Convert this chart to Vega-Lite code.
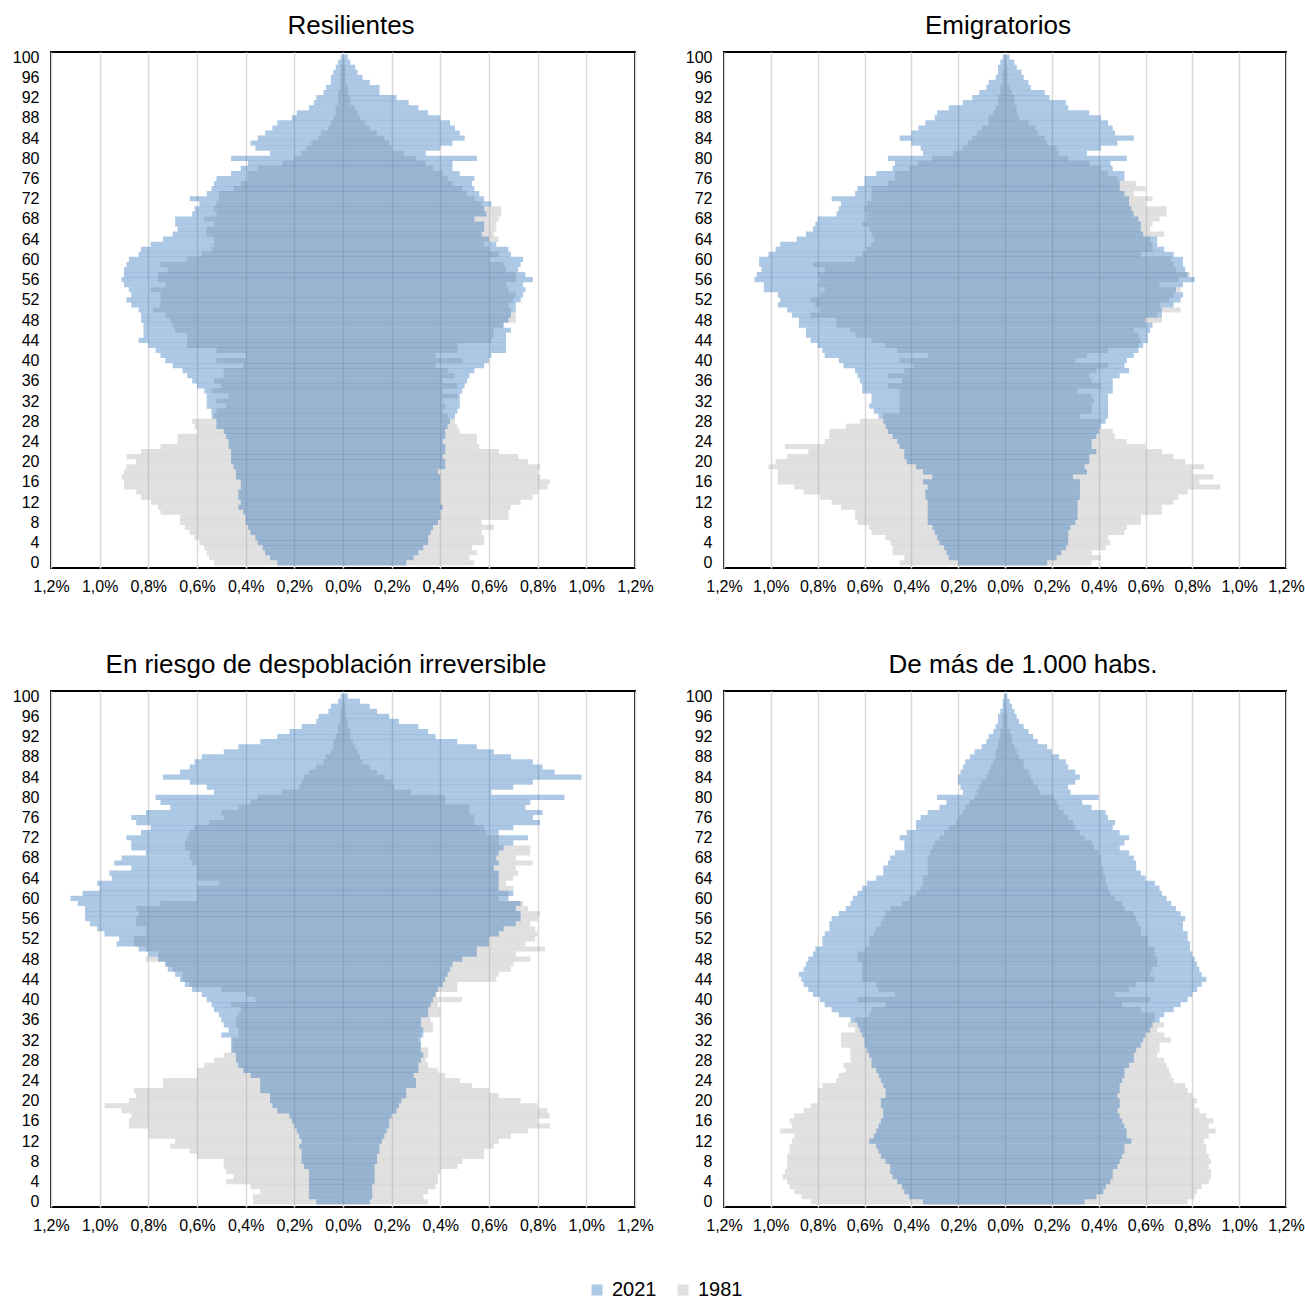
{
"$schema": "https://vega.github.io/schema/vega-lite/v6.json",
"padding": {"left": 11, "top": 12, "right": 2, "bottom": 2},
"background": "white",
"columns": 2,
"spacing": {"row": 123, "column": 89},
"bounds": "flush",
"align": "each",
"resolve": {"scale": {"color": "shared"}},
"datasets": {
"r21": [{"a":0,"v":-0.27},{"a":1,"v":-0.3},{"a":2,"v":-0.32},{"a":3,"v":-0.33},{"a":4,"v":-0.35},{"a":5,"v":-0.36},{"a":6,"v":-0.38},{"a":7,"v":-0.39},{"a":8,"v":-0.4},{"a":9,"v":-0.4},{"a":10,"v":-0.41},{"a":11,"v":-0.43},{"a":12,"v":-0.42},{"a":13,"v":-0.43},{"a":14,"v":-0.43},{"a":15,"v":-0.42},{"a":16,"v":-0.42},{"a":17,"v":-0.44},{"a":18,"v":-0.44},{"a":19,"v":-0.45},{"a":20,"v":-0.46},{"a":21,"v":-0.46},{"a":22,"v":-0.46},{"a":23,"v":-0.47},{"a":24,"v":-0.47},{"a":25,"v":-0.48},{"a":26,"v":-0.49},{"a":27,"v":-0.52},{"a":28,"v":-0.52},{"a":29,"v":-0.54},{"a":30,"v":-0.54},{"a":31,"v":-0.56},{"a":32,"v":-0.56},{"a":33,"v":-0.56},{"a":34,"v":-0.57},{"a":35,"v":-0.6},{"a":36,"v":-0.62},{"a":37,"v":-0.64},{"a":38,"v":-0.66},{"a":39,"v":-0.7},{"a":40,"v":-0.73},{"a":41,"v":-0.75},{"a":42,"v":-0.77},{"a":43,"v":-0.8},{"a":44,"v":-0.84},{"a":45,"v":-0.82},{"a":46,"v":-0.82},{"a":47,"v":-0.82},{"a":48,"v":-0.83},{"a":49,"v":-0.83},{"a":50,"v":-0.84},{"a":51,"v":-0.87},{"a":52,"v":-0.89},{"a":53,"v":-0.87},{"a":54,"v":-0.88},{"a":55,"v":-0.9},{"a":56,"v":-0.91},{"a":57,"v":-0.9},{"a":58,"v":-0.9},{"a":59,"v":-0.89},{"a":60,"v":-0.88},{"a":61,"v":-0.84},{"a":62,"v":-0.83},{"a":63,"v":-0.79},{"a":64,"v":-0.74},{"a":65,"v":-0.7},{"a":66,"v":-0.68},{"a":67,"v":-0.69},{"a":68,"v":-0.69},{"a":69,"v":-0.62},{"a":70,"v":-0.61},{"a":71,"v":-0.59},{"a":72,"v":-0.63},{"a":73,"v":-0.56},{"a":74,"v":-0.54},{"a":75,"v":-0.53},{"a":76,"v":-0.52},{"a":77,"v":-0.46},{"a":78,"v":-0.42},{"a":79,"v":-0.39},{"a":80,"v":-0.46},{"a":81,"v":-0.3},{"a":82,"v":-0.36},{"a":83,"v":-0.38},{"a":84,"v":-0.35},{"a":85,"v":-0.32},{"a":86,"v":-0.29},{"a":87,"v":-0.27},{"a":88,"v":-0.21},{"a":89,"v":-0.19},{"a":90,"v":-0.14},{"a":91,"v":-0.12},{"a":92,"v":-0.11},{"a":93,"v":-0.08},{"a":94,"v":-0.07},{"a":95,"v":-0.05},{"a":96,"v":-0.05},{"a":97,"v":-0.04},{"a":98,"v":-0.03},{"a":99,"v":-0.02},{"a":100,"v":-0.01},
{"a":0,"v":0.26},{"a":1,"v":0.29},{"a":2,"v":0.31},{"a":3,"v":0.33},{"a":4,"v":0.35},{"a":5,"v":0.35},{"a":6,"v":0.36},{"a":7,"v":0.37},{"a":8,"v":0.39},{"a":9,"v":0.4},{"a":10,"v":0.4},{"a":11,"v":0.41},{"a":12,"v":0.4},{"a":13,"v":0.4},{"a":14,"v":0.4},{"a":15,"v":0.4},{"a":16,"v":0.4},{"a":17,"v":0.4},{"a":18,"v":0.39},{"a":19,"v":0.42},{"a":20,"v":0.42},{"a":21,"v":0.41},{"a":22,"v":0.42},{"a":23,"v":0.42},{"a":24,"v":0.41},{"a":25,"v":0.42},{"a":26,"v":0.42},{"a":27,"v":0.43},{"a":28,"v":0.44},{"a":29,"v":0.46},{"a":30,"v":0.47},{"a":31,"v":0.48},{"a":32,"v":0.48},{"a":33,"v":0.48},{"a":34,"v":0.49},{"a":35,"v":0.5},{"a":36,"v":0.51},{"a":37,"v":0.52},{"a":38,"v":0.54},{"a":39,"v":0.58},{"a":40,"v":0.6},{"a":41,"v":0.61},{"a":42,"v":0.67},{"a":43,"v":0.67},{"a":44,"v":0.67},{"a":45,"v":0.67},{"a":46,"v":0.69},{"a":47,"v":0.66},{"a":48,"v":0.68},{"a":49,"v":0.69},{"a":50,"v":0.71},{"a":51,"v":0.71},{"a":52,"v":0.73},{"a":53,"v":0.74},{"a":54,"v":0.75},{"a":55,"v":0.74},{"a":56,"v":0.78},{"a":57,"v":0.75},{"a":58,"v":0.72},{"a":59,"v":0.73},{"a":60,"v":0.74},{"a":61,"v":0.69},{"a":62,"v":0.68},{"a":63,"v":0.63},{"a":64,"v":0.6},{"a":65,"v":0.57},{"a":66,"v":0.58},{"a":67,"v":0.58},{"a":68,"v":0.54},{"a":69,"v":0.59},{"a":70,"v":0.58},{"a":71,"v":0.61},{"a":72,"v":0.58},{"a":73,"v":0.56},{"a":74,"v":0.54},{"a":75,"v":0.53},{"a":76,"v":0.54},{"a":77,"v":0.48},{"a":78,"v":0.45},{"a":79,"v":0.45},{"a":80,"v":0.55},{"a":81,"v":0.34},{"a":82,"v":0.4},{"a":83,"v":0.45},{"a":84,"v":0.5},{"a":85,"v":0.48},{"a":86,"v":0.46},{"a":87,"v":0.44},{"a":88,"v":0.4},{"a":89,"v":0.35},{"a":90,"v":0.31},{"a":91,"v":0.27},{"a":92,"v":0.22},{"a":93,"v":0.15},{"a":94,"v":0.15},{"a":95,"v":0.11},{"a":96,"v":0.08},{"a":97,"v":0.06},{"a":98,"v":0.05},{"a":99,"v":0.03},{"a":100,"v":0.02}],
"r81": [{"a":0,"v":-0.53},{"a":1,"v":-0.55},{"a":2,"v":-0.56},{"a":3,"v":-0.57},{"a":4,"v":-0.59},{"a":5,"v":-0.61},{"a":6,"v":-0.63},{"a":7,"v":-0.65},{"a":8,"v":-0.67},{"a":9,"v":-0.67},{"a":10,"v":-0.75},{"a":11,"v":-0.76},{"a":12,"v":-0.79},{"a":13,"v":-0.83},{"a":14,"v":-0.85},{"a":15,"v":-0.9},{"a":16,"v":-0.9},{"a":17,"v":-0.91},{"a":18,"v":-0.9},{"a":19,"v":-0.89},{"a":20,"v":-0.85},{"a":21,"v":-0.89},{"a":22,"v":-0.83},{"a":23,"v":-0.75},{"a":24,"v":-0.68},{"a":25,"v":-0.68},{"a":26,"v":-0.6},{"a":27,"v":-0.61},{"a":28,"v":-0.62},{"a":29,"v":-0.53},{"a":30,"v":-0.52},{"a":31,"v":-0.48},{"a":32,"v":-0.52},{"a":33,"v":-0.47},{"a":34,"v":-0.54},{"a":35,"v":-0.5},{"a":36,"v":-0.53},{"a":37,"v":-0.49},{"a":38,"v":-0.49},{"a":39,"v":-0.41},{"a":40,"v":-0.52},{"a":41,"v":-0.4},{"a":42,"v":-0.52},{"a":43,"v":-0.64},{"a":44,"v":-0.64},{"a":45,"v":-0.64},{"a":46,"v":-0.69},{"a":47,"v":-0.7},{"a":48,"v":-0.71},{"a":49,"v":-0.73},{"a":50,"v":-0.78},{"a":51,"v":-0.75},{"a":52,"v":-0.75},{"a":53,"v":-0.75},{"a":54,"v":-0.79},{"a":55,"v":-0.73},{"a":56,"v":-0.76},{"a":57,"v":-0.76},{"a":58,"v":-0.72},{"a":59,"v":-0.75},{"a":60,"v":-0.64},{"a":61,"v":-0.58},{"a":62,"v":-0.54},{"a":63,"v":-0.53},{"a":64,"v":-0.53},{"a":65,"v":-0.56},{"a":66,"v":-0.56},{"a":67,"v":-0.53},{"a":68,"v":-0.57},{"a":69,"v":-0.52},{"a":70,"v":-0.53},{"a":71,"v":-0.52},{"a":72,"v":-0.51},{"a":73,"v":-0.51},{"a":74,"v":-0.45},{"a":75,"v":-0.42},{"a":76,"v":-0.39},{"a":77,"v":-0.39},{"a":78,"v":-0.35},{"a":79,"v":-0.25},{"a":80,"v":-0.2},{"a":81,"v":-0.17},{"a":82,"v":-0.15},{"a":83,"v":-0.13},{"a":84,"v":-0.1},{"a":85,"v":-0.09},{"a":86,"v":-0.06},{"a":87,"v":-0.05},{"a":88,"v":-0.04},{"a":89,"v":-0.03},{"a":90,"v":-0.03},{"a":91,"v":-0.02},{"a":92,"v":-0.02},{"a":93,"v":-0.02},{"a":94,"v":-0.01},{"a":95,"v":-0.01},{"a":96,"v":-0.01},{"a":97,"v":-0.01},{"a":98,"v":-0.01},{"a":99,"v":-0.005},{"a":100,"v":0},
{"a":0,"v":0.54},{"a":1,"v":0.52},{"a":2,"v":0.55},{"a":3,"v":0.53},{"a":4,"v":0.58},{"a":5,"v":0.58},{"a":6,"v":0.57},{"a":7,"v":0.62},{"a":8,"v":0.57},{"a":9,"v":0.68},{"a":10,"v":0.68},{"a":11,"v":0.69},{"a":12,"v":0.73},{"a":13,"v":0.78},{"a":14,"v":0.8},{"a":15,"v":0.84},{"a":16,"v":0.85},{"a":17,"v":0.81},{"a":18,"v":0.8},{"a":19,"v":0.81},{"a":20,"v":0.76},{"a":21,"v":0.72},{"a":22,"v":0.64},{"a":23,"v":0.56},{"a":24,"v":0.55},{"a":25,"v":0.55},{"a":26,"v":0.48},{"a":27,"v":0.47},{"a":28,"v":0.46},{"a":29,"v":0.43},{"a":30,"v":0.41},{"a":31,"v":0.42},{"a":32,"v":0.41},{"a":33,"v":0.47},{"a":34,"v":0.41},{"a":35,"v":0.47},{"a":36,"v":0.41},{"a":37,"v":0.46},{"a":38,"v":0.43},{"a":39,"v":0.38},{"a":40,"v":0.49},{"a":41,"v":0.38},{"a":42,"v":0.47},{"a":43,"v":0.47},{"a":44,"v":0.61},{"a":45,"v":0.62},{"a":46,"v":0.62},{"a":47,"v":0.66},{"a":48,"v":0.71},{"a":49,"v":0.71},{"a":50,"v":0.69},{"a":51,"v":0.68},{"a":52,"v":0.7},{"a":53,"v":0.71},{"a":54,"v":0.68},{"a":55,"v":0.67},{"a":56,"v":0.71},{"a":57,"v":0.71},{"a":58,"v":0.67},{"a":59,"v":0.66},{"a":60,"v":0.6},{"a":61,"v":0.64},{"a":62,"v":0.6},{"a":63,"v":0.58},{"a":64,"v":0.64},{"a":65,"v":0.62},{"a":66,"v":0.63},{"a":67,"v":0.63},{"a":68,"v":0.64},{"a":69,"v":0.65},{"a":70,"v":0.65},{"a":71,"v":0.57},{"a":72,"v":0.54},{"a":73,"v":0.51},{"a":74,"v":0.49},{"a":75,"v":0.45},{"a":76,"v":0.43},{"a":77,"v":0.41},{"a":78,"v":0.37},{"a":79,"v":0.34},{"a":80,"v":0.3},{"a":81,"v":0.25},{"a":82,"v":0.2},{"a":83,"v":0.19},{"a":84,"v":0.17},{"a":85,"v":0.14},{"a":86,"v":0.11},{"a":87,"v":0.09},{"a":88,"v":0.07},{"a":89,"v":0.06},{"a":90,"v":0.05},{"a":91,"v":0.03},{"a":92,"v":0.03},{"a":93,"v":0.02},{"a":94,"v":0.02},{"a":95,"v":0.01},{"a":96,"v":0.01},{"a":97,"v":0.01},{"a":98,"v":0.01},{"a":99,"v":0.005},{"a":100,"v":0.003}],
"e21": [{"a":0,"v":-0.2},{"a":1,"v":-0.24},{"a":2,"v":-0.25},{"a":3,"v":-0.26},{"a":4,"v":-0.28},{"a":5,"v":-0.29},{"a":6,"v":-0.3},{"a":7,"v":-0.31},{"a":8,"v":-0.33},{"a":9,"v":-0.33},{"a":10,"v":-0.33},{"a":11,"v":-0.33},{"a":12,"v":-0.33},{"a":13,"v":-0.34},{"a":14,"v":-0.34},{"a":15,"v":-0.33},{"a":16,"v":-0.35},{"a":17,"v":-0.31},{"a":18,"v":-0.35},{"a":19,"v":-0.38},{"a":20,"v":-0.42},{"a":21,"v":-0.43},{"a":22,"v":-0.43},{"a":23,"v":-0.45},{"a":24,"v":-0.46},{"a":25,"v":-0.48},{"a":26,"v":-0.5},{"a":27,"v":-0.51},{"a":28,"v":-0.52},{"a":29,"v":-0.54},{"a":30,"v":-0.56},{"a":31,"v":-0.58},{"a":32,"v":-0.57},{"a":33,"v":-0.57},{"a":34,"v":-0.61},{"a":35,"v":-0.61},{"a":36,"v":-0.62},{"a":37,"v":-0.63},{"a":38,"v":-0.64},{"a":39,"v":-0.69},{"a":40,"v":-0.71},{"a":41,"v":-0.77},{"a":42,"v":-0.78},{"a":43,"v":-0.8},{"a":44,"v":-0.83},{"a":45,"v":-0.85},{"a":46,"v":-0.85},{"a":47,"v":-0.88},{"a":48,"v":-0.88},{"a":49,"v":-0.91},{"a":50,"v":-0.93},{"a":51,"v":-0.97},{"a":52,"v":-0.96},{"a":53,"v":-0.97},{"a":54,"v":-1.03},{"a":55,"v":-1.03},{"a":56,"v":-1.07},{"a":57,"v":-1.06},{"a":58,"v":-1.04},{"a":59,"v":-1.05},{"a":60,"v":-1.05},{"a":61,"v":-1.01},{"a":62,"v":-0.98},{"a":63,"v":-0.96},{"a":64,"v":-0.89},{"a":65,"v":-0.85},{"a":66,"v":-0.82},{"a":67,"v":-0.81},{"a":68,"v":-0.8},{"a":69,"v":-0.72},{"a":70,"v":-0.71},{"a":71,"v":-0.7},{"a":72,"v":-0.74},{"a":73,"v":-0.64},{"a":74,"v":-0.63},{"a":75,"v":-0.6},{"a":76,"v":-0.6},{"a":77,"v":-0.55},{"a":78,"v":-0.48},{"a":79,"v":-0.47},{"a":80,"v":-0.5},{"a":81,"v":-0.35},{"a":82,"v":-0.36},{"a":83,"v":-0.4},{"a":84,"v":-0.45},{"a":85,"v":-0.4},{"a":86,"v":-0.37},{"a":87,"v":-0.34},{"a":88,"v":-0.3},{"a":89,"v":-0.29},{"a":90,"v":-0.24},{"a":91,"v":-0.18},{"a":92,"v":-0.14},{"a":93,"v":-0.11},{"a":94,"v":-0.08},{"a":95,"v":-0.07},{"a":96,"v":-0.04},{"a":97,"v":-0.03},{"a":98,"v":-0.03},{"a":99,"v":-0.02},{"a":100,"v":-0.01},
{"a":0,"v":0.18},{"a":1,"v":0.22},{"a":2,"v":0.24},{"a":3,"v":0.26},{"a":4,"v":0.27},{"a":5,"v":0.27},{"a":6,"v":0.27},{"a":7,"v":0.28},{"a":8,"v":0.3},{"a":9,"v":0.31},{"a":10,"v":0.31},{"a":11,"v":0.31},{"a":12,"v":0.31},{"a":13,"v":0.32},{"a":14,"v":0.32},{"a":15,"v":0.32},{"a":16,"v":0.32},{"a":17,"v":0.29},{"a":18,"v":0.35},{"a":19,"v":0.34},{"a":20,"v":0.36},{"a":21,"v":0.36},{"a":22,"v":0.39},{"a":23,"v":0.37},{"a":24,"v":0.37},{"a":25,"v":0.39},{"a":26,"v":0.4},{"a":27,"v":0.41},{"a":28,"v":0.43},{"a":29,"v":0.44},{"a":30,"v":0.44},{"a":31,"v":0.44},{"a":32,"v":0.44},{"a":33,"v":0.44},{"a":34,"v":0.46},{"a":35,"v":0.46},{"a":36,"v":0.46},{"a":37,"v":0.49},{"a":38,"v":0.53},{"a":39,"v":0.51},{"a":40,"v":0.52},{"a":41,"v":0.55},{"a":42,"v":0.57},{"a":43,"v":0.59},{"a":44,"v":0.61},{"a":45,"v":0.61},{"a":46,"v":0.62},{"a":47,"v":0.63},{"a":48,"v":0.6},{"a":49,"v":0.67},{"a":50,"v":0.67},{"a":51,"v":0.72},{"a":52,"v":0.75},{"a":53,"v":0.76},{"a":54,"v":0.73},{"a":55,"v":0.76},{"a":56,"v":0.81},{"a":57,"v":0.78},{"a":58,"v":0.77},{"a":59,"v":0.76},{"a":60,"v":0.76},{"a":61,"v":0.72},{"a":62,"v":0.68},{"a":63,"v":0.65},{"a":64,"v":0.65},{"a":65,"v":0.59},{"a":66,"v":0.58},{"a":67,"v":0.58},{"a":68,"v":0.57},{"a":69,"v":0.55},{"a":70,"v":0.54},{"a":71,"v":0.53},{"a":72,"v":0.53},{"a":73,"v":0.51},{"a":74,"v":0.49},{"a":75,"v":0.49},{"a":76,"v":0.51},{"a":77,"v":0.51},{"a":78,"v":0.46},{"a":79,"v":0.45},{"a":80,"v":0.52},{"a":81,"v":0.35},{"a":82,"v":0.41},{"a":83,"v":0.48},{"a":84,"v":0.55},{"a":85,"v":0.47},{"a":86,"v":0.46},{"a":87,"v":0.44},{"a":88,"v":0.41},{"a":89,"v":0.36},{"a":90,"v":0.27},{"a":91,"v":0.26},{"a":92,"v":0.19},{"a":93,"v":0.17},{"a":94,"v":0.11},{"a":95,"v":0.1},{"a":96,"v":0.08},{"a":97,"v":0.07},{"a":98,"v":0.05},{"a":99,"v":0.04},{"a":100,"v":0.02}],
"e81": [{"a":0,"v":-0.45},{"a":1,"v":-0.43},{"a":2,"v":-0.48},{"a":3,"v":-0.48},{"a":4,"v":-0.49},{"a":5,"v":-0.51},{"a":6,"v":-0.57},{"a":7,"v":-0.58},{"a":8,"v":-0.63},{"a":9,"v":-0.64},{"a":10,"v":-0.64},{"a":11,"v":-0.7},{"a":12,"v":-0.74},{"a":13,"v":-0.79},{"a":14,"v":-0.86},{"a":15,"v":-0.9},{"a":16,"v":-0.97},{"a":17,"v":-0.97},{"a":18,"v":-0.97},{"a":19,"v":-1.01},{"a":20,"v":-0.98},{"a":21,"v":-0.93},{"a":22,"v":-0.84},{"a":23,"v":-0.94},{"a":24,"v":-0.77},{"a":25,"v":-0.75},{"a":26,"v":-0.75},{"a":27,"v":-0.68},{"a":28,"v":-0.62},{"a":29,"v":-0.52},{"a":30,"v":-0.45},{"a":31,"v":-0.45},{"a":32,"v":-0.45},{"a":33,"v":-0.45},{"a":34,"v":-0.45},{"a":35,"v":-0.5},{"a":36,"v":-0.44},{"a":37,"v":-0.5},{"a":38,"v":-0.43},{"a":39,"v":-0.39},{"a":40,"v":-0.45},{"a":41,"v":-0.33},{"a":42,"v":-0.46},{"a":43,"v":-0.51},{"a":44,"v":-0.57},{"a":45,"v":-0.64},{"a":46,"v":-0.66},{"a":47,"v":-0.72},{"a":48,"v":-0.72},{"a":49,"v":-0.83},{"a":50,"v":-0.79},{"a":51,"v":-0.81},{"a":52,"v":-0.83},{"a":53,"v":-0.79},{"a":54,"v":-0.77},{"a":55,"v":-0.8},{"a":56,"v":-0.79},{"a":57,"v":-0.8},{"a":58,"v":-0.77},{"a":59,"v":-0.82},{"a":60,"v":-0.64},{"a":61,"v":-0.61},{"a":62,"v":-0.59},{"a":63,"v":-0.57},{"a":64,"v":-0.56},{"a":65,"v":-0.57},{"a":66,"v":-0.58},{"a":67,"v":-0.61},{"a":68,"v":-0.59},{"a":69,"v":-0.59},{"a":70,"v":-0.6},{"a":71,"v":-0.59},{"a":72,"v":-0.57},{"a":73,"v":-0.57},{"a":74,"v":-0.57},{"a":75,"v":-0.5},{"a":76,"v":-0.47},{"a":77,"v":-0.47},{"a":78,"v":-0.41},{"a":79,"v":-0.37},{"a":80,"v":-0.31},{"a":81,"v":-0.22},{"a":82,"v":-0.18},{"a":83,"v":-0.16},{"a":84,"v":-0.14},{"a":85,"v":-0.12},{"a":86,"v":-0.1},{"a":87,"v":-0.07},{"a":88,"v":-0.07},{"a":89,"v":-0.05},{"a":90,"v":-0.04},{"a":91,"v":-0.03},{"a":92,"v":-0.03},{"a":93,"v":-0.02},{"a":94,"v":-0.02},{"a":95,"v":-0.01},{"a":96,"v":-0.01},{"a":97,"v":-0.01},{"a":98,"v":-0.005},{"a":99,"v":-0.005},{"a":100,"v":-0.003},
{"a":0,"v":0.37},{"a":1,"v":0.41},{"a":2,"v":0.37},{"a":3,"v":0.43},{"a":4,"v":0.45},{"a":5,"v":0.44},{"a":6,"v":0.51},{"a":7,"v":0.52},{"a":8,"v":0.58},{"a":9,"v":0.58},{"a":10,"v":0.67},{"a":11,"v":0.67},{"a":12,"v":0.72},{"a":13,"v":0.74},{"a":14,"v":0.78},{"a":15,"v":0.92},{"a":16,"v":0.83},{"a":17,"v":0.89},{"a":18,"v":0.8},{"a":19,"v":0.85},{"a":20,"v":0.77},{"a":21,"v":0.72},{"a":22,"v":0.67},{"a":23,"v":0.6},{"a":24,"v":0.52},{"a":25,"v":0.47},{"a":26,"v":0.46},{"a":27,"v":0.4},{"a":28,"v":0.41},{"a":29,"v":0.32},{"a":30,"v":0.37},{"a":31,"v":0.37},{"a":32,"v":0.38},{"a":33,"v":0.37},{"a":34,"v":0.31},{"a":35,"v":0.41},{"a":36,"v":0.37},{"a":37,"v":0.36},{"a":38,"v":0.39},{"a":39,"v":0.44},{"a":40,"v":0.3},{"a":41,"v":0.35},{"a":42,"v":0.44},{"a":43,"v":0.57},{"a":44,"v":0.58},{"a":45,"v":0.57},{"a":46,"v":0.55},{"a":47,"v":0.6},{"a":48,"v":0.67},{"a":49,"v":0.65},{"a":50,"v":0.75},{"a":51,"v":0.66},{"a":52,"v":0.7},{"a":53,"v":0.72},{"a":54,"v":0.75},{"a":55,"v":0.66},{"a":56,"v":0.74},{"a":57,"v":0.79},{"a":58,"v":0.73},{"a":59,"v":0.72},{"a":60,"v":0.71},{"a":61,"v":0.58},{"a":62,"v":0.63},{"a":63,"v":0.63},{"a":64,"v":0.62},{"a":65,"v":0.68},{"a":66,"v":0.62},{"a":67,"v":0.63},{"a":68,"v":0.66},{"a":69,"v":0.69},{"a":70,"v":0.69},{"a":71,"v":0.6},{"a":72,"v":0.63},{"a":73,"v":0.55},{"a":74,"v":0.6},{"a":75,"v":0.56},{"a":76,"v":0.48},{"a":77,"v":0.44},{"a":78,"v":0.41},{"a":79,"v":0.36},{"a":80,"v":0.27},{"a":81,"v":0.23},{"a":82,"v":0.22},{"a":83,"v":0.18},{"a":84,"v":0.17},{"a":85,"v":0.14},{"a":86,"v":0.13},{"a":87,"v":0.1},{"a":88,"v":0.06},{"a":89,"v":0.05},{"a":90,"v":0.05},{"a":91,"v":0.04},{"a":92,"v":0.04},{"a":93,"v":0.03},{"a":94,"v":0.02},{"a":95,"v":0.01},{"a":96,"v":0.01},{"a":97,"v":0.01},{"a":98,"v":0.01},{"a":99,"v":0.005},{"a":100,"v":0.005}],
"d21": [{"a":0,"v":-0.11},{"a":1,"v":-0.14},{"a":2,"v":-0.14},{"a":3,"v":-0.14},{"a":4,"v":-0.14},{"a":5,"v":-0.14},{"a":6,"v":-0.14},{"a":7,"v":-0.16},{"a":8,"v":-0.17},{"a":9,"v":-0.17},{"a":10,"v":-0.17},{"a":11,"v":-0.18},{"a":12,"v":-0.17},{"a":13,"v":-0.18},{"a":14,"v":-0.19},{"a":15,"v":-0.2},{"a":16,"v":-0.21},{"a":17,"v":-0.22},{"a":18,"v":-0.27},{"a":19,"v":-0.29},{"a":20,"v":-0.3},{"a":21,"v":-0.3},{"a":22,"v":-0.34},{"a":23,"v":-0.34},{"a":24,"v":-0.34},{"a":25,"v":-0.38},{"a":26,"v":-0.41},{"a":27,"v":-0.43},{"a":28,"v":-0.44},{"a":29,"v":-0.44},{"a":30,"v":-0.46},{"a":31,"v":-0.46},{"a":32,"v":-0.46},{"a":33,"v":-0.5},{"a":34,"v":-0.47},{"a":35,"v":-0.49},{"a":36,"v":-0.5},{"a":37,"v":-0.51},{"a":38,"v":-0.53},{"a":39,"v":-0.54},{"a":40,"v":-0.56},{"a":41,"v":-0.58},{"a":42,"v":-0.62},{"a":43,"v":-0.65},{"a":44,"v":-0.67},{"a":45,"v":-0.69},{"a":46,"v":-0.72},{"a":47,"v":-0.73},{"a":48,"v":-0.76},{"a":49,"v":-0.8},{"a":50,"v":-0.84},{"a":51,"v":-0.93},{"a":52,"v":-0.92},{"a":53,"v":-0.98},{"a":54,"v":-1.01},{"a":55,"v":-1.04},{"a":56,"v":-1.06},{"a":57,"v":-1.06},{"a":58,"v":-1.06},{"a":59,"v":-1.09},{"a":60,"v":-1.12},{"a":61,"v":-1.07},{"a":62,"v":-1.0},{"a":63,"v":-1.01},{"a":64,"v":-0.95},{"a":65,"v":-0.96},{"a":66,"v":-0.87},{"a":67,"v":-0.94},{"a":68,"v":-0.91},{"a":69,"v":-0.81},{"a":70,"v":-0.87},{"a":71,"v":-0.87},{"a":72,"v":-0.89},{"a":73,"v":-0.83},{"a":74,"v":-0.79},{"a":75,"v":-0.85},{"a":76,"v":-0.87},{"a":77,"v":-0.81},{"a":78,"v":-0.71},{"a":79,"v":-0.75},{"a":80,"v":-0.77},{"a":81,"v":-0.53},{"a":82,"v":-0.56},{"a":83,"v":-0.63},{"a":84,"v":-0.74},{"a":85,"v":-0.67},{"a":86,"v":-0.63},{"a":87,"v":-0.61},{"a":88,"v":-0.58},{"a":89,"v":-0.49},{"a":90,"v":-0.43},{"a":91,"v":-0.34},{"a":92,"v":-0.27},{"a":93,"v":-0.22},{"a":94,"v":-0.17},{"a":95,"v":-0.11},{"a":96,"v":-0.1},{"a":97,"v":-0.06},{"a":98,"v":-0.05},{"a":99,"v":-0.02},{"a":100,"v":-0.01},
{"a":0,"v":0.11},{"a":1,"v":0.12},{"a":2,"v":0.12},{"a":3,"v":0.12},{"a":4,"v":0.13},{"a":5,"v":0.13},{"a":6,"v":0.13},{"a":7,"v":0.13},{"a":8,"v":0.14},{"a":9,"v":0.14},{"a":10,"v":0.15},{"a":11,"v":0.15},{"a":12,"v":0.16},{"a":13,"v":0.17},{"a":14,"v":0.18},{"a":15,"v":0.19},{"a":16,"v":0.19},{"a":17,"v":0.2},{"a":18,"v":0.22},{"a":19,"v":0.23},{"a":20,"v":0.24},{"a":21,"v":0.26},{"a":22,"v":0.26},{"a":23,"v":0.3},{"a":24,"v":0.3},{"a":25,"v":0.29},{"a":26,"v":0.31},{"a":27,"v":0.31},{"a":28,"v":0.32},{"a":29,"v":0.33},{"a":30,"v":0.32},{"a":31,"v":0.32},{"a":32,"v":0.32},{"a":33,"v":0.33},{"a":34,"v":0.33},{"a":35,"v":0.32},{"a":36,"v":0.32},{"a":37,"v":0.35},{"a":38,"v":0.35},{"a":39,"v":0.36},{"a":40,"v":0.37},{"a":41,"v":0.38},{"a":42,"v":0.39},{"a":43,"v":0.41},{"a":44,"v":0.42},{"a":45,"v":0.43},{"a":46,"v":0.44},{"a":47,"v":0.45},{"a":48,"v":0.49},{"a":49,"v":0.55},{"a":50,"v":0.55},{"a":51,"v":0.6},{"a":52,"v":0.6},{"a":53,"v":0.64},{"a":54,"v":0.66},{"a":55,"v":0.71},{"a":56,"v":0.73},{"a":57,"v":0.73},{"a":58,"v":0.71},{"a":59,"v":0.73},{"a":60,"v":0.68},{"a":61,"v":0.7},{"a":62,"v":0.64},{"a":63,"v":0.64},{"a":64,"v":0.64},{"a":65,"v":0.64},{"a":66,"v":0.62},{"a":67,"v":0.64},{"a":68,"v":0.63},{"a":69,"v":0.64},{"a":70,"v":0.66},{"a":71,"v":0.7},{"a":72,"v":0.76},{"a":73,"v":0.64},{"a":74,"v":0.7},{"a":75,"v":0.81},{"a":76,"v":0.78},{"a":77,"v":0.82},{"a":78,"v":0.75},{"a":79,"v":0.77},{"a":80,"v":0.91},{"a":81,"v":0.61},{"a":82,"v":0.7},{"a":83,"v":0.78},{"a":84,"v":0.98},{"a":85,"v":0.87},{"a":86,"v":0.82},{"a":87,"v":0.78},{"a":88,"v":0.69},{"a":89,"v":0.62},{"a":90,"v":0.55},{"a":91,"v":0.47},{"a":92,"v":0.38},{"a":93,"v":0.35},{"a":94,"v":0.31},{"a":95,"v":0.23},{"a":96,"v":0.19},{"a":97,"v":0.14},{"a":98,"v":0.11},{"a":99,"v":0.07},{"a":100,"v":0.02}],
"d81": [{"a":0,"v":-0.37},{"a":1,"v":-0.37},{"a":2,"v":-0.34},{"a":3,"v":-0.38},{"a":4,"v":-0.48},{"a":5,"v":-0.45},{"a":6,"v":-0.48},{"a":7,"v":-0.49},{"a":8,"v":-0.49},{"a":9,"v":-0.6},{"a":10,"v":-0.63},{"a":11,"v":-0.71},{"a":12,"v":-0.69},{"a":13,"v":-0.8},{"a":14,"v":-0.8},{"a":15,"v":-0.88},{"a":16,"v":-0.88},{"a":17,"v":-0.87},{"a":18,"v":-0.91},{"a":19,"v":-0.98},{"a":20,"v":-0.88},{"a":21,"v":-0.85},{"a":22,"v":-0.86},{"a":23,"v":-0.74},{"a":24,"v":-0.74},{"a":25,"v":-0.6},{"a":26,"v":-0.6},{"a":27,"v":-0.57},{"a":28,"v":-0.53},{"a":29,"v":-0.49},{"a":30,"v":-0.455},{"a":31,"v":-0.455},{"a":32,"v":-0.455},{"a":33,"v":-0.43},{"a":34,"v":-0.43},{"a":35,"v":-0.44},{"a":36,"v":-0.44},{"a":37,"v":-0.43},{"a":38,"v":-0.42},{"a":39,"v":-0.46},{"a":40,"v":-0.36},{"a":41,"v":-0.4},{"a":42,"v":-0.5},{"a":43,"v":-0.63},{"a":44,"v":-0.66},{"a":45,"v":-0.66},{"a":46,"v":-0.7},{"a":47,"v":-0.73},{"a":48,"v":-0.81},{"a":49,"v":-0.76},{"a":50,"v":-0.81},{"a":51,"v":-0.86},{"a":52,"v":-0.86},{"a":53,"v":-0.81},{"a":54,"v":-0.81},{"a":55,"v":-0.85},{"a":56,"v":-0.85},{"a":57,"v":-0.84},{"a":58,"v":-0.85},{"a":59,"v":-0.75},{"a":60,"v":-0.6},{"a":61,"v":-0.6},{"a":62,"v":-0.6},{"a":63,"v":-0.51},{"a":64,"v":-0.6},{"a":65,"v":-0.6},{"a":66,"v":-0.6},{"a":67,"v":-0.62},{"a":68,"v":-0.63},{"a":69,"v":-0.63},{"a":70,"v":-0.65},{"a":71,"v":-0.65},{"a":72,"v":-0.64},{"a":73,"v":-0.63},{"a":74,"v":-0.61},{"a":75,"v":-0.55},{"a":76,"v":-0.49},{"a":77,"v":-0.5},{"a":78,"v":-0.43},{"a":79,"v":-0.38},{"a":80,"v":-0.35},{"a":81,"v":-0.25},{"a":82,"v":-0.18},{"a":83,"v":-0.17},{"a":84,"v":-0.16},{"a":85,"v":-0.14},{"a":86,"v":-0.11},{"a":87,"v":-0.08},{"a":88,"v":-0.07},{"a":89,"v":-0.05},{"a":90,"v":-0.04},{"a":91,"v":-0.04},{"a":92,"v":-0.03},{"a":93,"v":-0.02},{"a":94,"v":-0.02},{"a":95,"v":-0.01},{"a":96,"v":-0.01},{"a":97,"v":-0.01},{"a":98,"v":-0.005},{"a":99,"v":-0.003},{"a":100,"v":0},
{"a":0,"v":0.35},{"a":1,"v":0.33},{"a":2,"v":0.35},{"a":3,"v":0.38},{"a":4,"v":0.39},{"a":5,"v":0.39},{"a":6,"v":0.4},{"a":7,"v":0.47},{"a":8,"v":0.49},{"a":9,"v":0.58},{"a":10,"v":0.58},{"a":11,"v":0.62},{"a":12,"v":0.64},{"a":13,"v":0.69},{"a":14,"v":0.76},{"a":15,"v":0.85},{"a":16,"v":0.8},{"a":17,"v":0.85},{"a":18,"v":0.84},{"a":19,"v":0.8},{"a":20,"v":0.73},{"a":21,"v":0.64},{"a":22,"v":0.6},{"a":23,"v":0.53},{"a":24,"v":0.48},{"a":25,"v":0.42},{"a":26,"v":0.39},{"a":27,"v":0.35},{"a":28,"v":0.34},{"a":29,"v":0.35},{"a":30,"v":0.35},{"a":31,"v":0.32},{"a":32,"v":0.31},{"a":33,"v":0.32},{"a":34,"v":0.37},{"a":35,"v":0.37},{"a":36,"v":0.36},{"a":37,"v":0.4},{"a":38,"v":0.4},{"a":39,"v":0.39},{"a":40,"v":0.49},{"a":41,"v":0.385},{"a":42,"v":0.47},{"a":43,"v":0.47},{"a":44,"v":0.63},{"a":45,"v":0.64},{"a":46,"v":0.69},{"a":47,"v":0.7},{"a":48,"v":0.77},{"a":49,"v":0.71},{"a":50,"v":0.83},{"a":51,"v":0.75},{"a":52,"v":0.79},{"a":53,"v":0.8},{"a":54,"v":0.79},{"a":55,"v":0.77},{"a":56,"v":0.8},{"a":57,"v":0.81},{"a":58,"v":0.76},{"a":59,"v":0.74},{"a":60,"v":0.64},{"a":61,"v":0.68},{"a":62,"v":0.7},{"a":63,"v":0.67},{"a":64,"v":0.7},{"a":65,"v":0.72},{"a":66,"v":0.71},{"a":67,"v":0.78},{"a":68,"v":0.71},{"a":69,"v":0.77},{"a":70,"v":0.77},{"a":71,"v":0.64},{"a":72,"v":0.64},{"a":73,"v":0.59},{"a":74,"v":0.58},{"a":75,"v":0.54},{"a":76,"v":0.54},{"a":77,"v":0.52},{"a":78,"v":0.52},{"a":79,"v":0.42},{"a":80,"v":0.42},{"a":81,"v":0.28},{"a":82,"v":0.21},{"a":83,"v":0.2},{"a":84,"v":0.17},{"a":85,"v":0.14},{"a":86,"v":0.11},{"a":87,"v":0.08},{"a":88,"v":0.07},{"a":89,"v":0.06},{"a":90,"v":0.05},{"a":91,"v":0.04},{"a":92,"v":0.03},{"a":93,"v":0.03},{"a":94,"v":0.02},{"a":95,"v":0.02},{"a":96,"v":0.01},{"a":97,"v":0.01},{"a":98,"v":0.01},{"a":99,"v":0.005},{"a":100,"v":0.005}],
"m21": [{"a":0,"v":-0.35},{"a":1,"v":-0.41},{"a":2,"v":-0.43},{"a":3,"v":-0.44},{"a":4,"v":-0.46},{"a":5,"v":-0.48},{"a":6,"v":-0.49},{"a":7,"v":-0.49},{"a":8,"v":-0.51},{"a":9,"v":-0.53},{"a":10,"v":-0.54},{"a":11,"v":-0.55},{"a":12,"v":-0.58},{"a":13,"v":-0.56},{"a":14,"v":-0.55},{"a":15,"v":-0.54},{"a":16,"v":-0.53},{"a":17,"v":-0.52},{"a":18,"v":-0.52},{"a":19,"v":-0.53},{"a":20,"v":-0.53},{"a":21,"v":-0.51},{"a":22,"v":-0.51},{"a":23,"v":-0.52},{"a":24,"v":-0.53},{"a":25,"v":-0.54},{"a":26,"v":-0.55},{"a":27,"v":-0.57},{"a":28,"v":-0.57},{"a":29,"v":-0.58},{"a":30,"v":-0.59},{"a":31,"v":-0.6},{"a":32,"v":-0.6},{"a":33,"v":-0.61},{"a":34,"v":-0.62},{"a":35,"v":-0.63},{"a":36,"v":-0.66},{"a":37,"v":-0.71},{"a":38,"v":-0.74},{"a":39,"v":-0.77},{"a":40,"v":-0.79},{"a":41,"v":-0.82},{"a":42,"v":-0.84},{"a":43,"v":-0.86},{"a":44,"v":-0.87},{"a":45,"v":-0.88},{"a":46,"v":-0.86},{"a":47,"v":-0.85},{"a":48,"v":-0.84},{"a":49,"v":-0.82},{"a":50,"v":-0.81},{"a":51,"v":-0.78},{"a":52,"v":-0.78},{"a":53,"v":-0.77},{"a":54,"v":-0.75},{"a":55,"v":-0.75},{"a":56,"v":-0.74},{"a":57,"v":-0.71},{"a":58,"v":-0.68},{"a":59,"v":-0.66},{"a":60,"v":-0.65},{"a":61,"v":-0.63},{"a":62,"v":-0.61},{"a":63,"v":-0.59},{"a":64,"v":-0.55},{"a":65,"v":-0.52},{"a":66,"v":-0.52},{"a":67,"v":-0.5},{"a":68,"v":-0.49},{"a":69,"v":-0.47},{"a":70,"v":-0.43},{"a":71,"v":-0.43},{"a":72,"v":-0.45},{"a":73,"v":-0.42},{"a":74,"v":-0.38},{"a":75,"v":-0.38},{"a":76,"v":-0.36},{"a":77,"v":-0.33},{"a":78,"v":-0.28},{"a":79,"v":-0.25},{"a":80,"v":-0.29},{"a":81,"v":-0.18},{"a":82,"v":-0.19},{"a":83,"v":-0.2},{"a":84,"v":-0.2},{"a":85,"v":-0.19},{"a":86,"v":-0.18},{"a":87,"v":-0.17},{"a":88,"v":-0.15},{"a":89,"v":-0.13},{"a":90,"v":-0.1},{"a":91,"v":-0.08},{"a":92,"v":-0.07},{"a":93,"v":-0.05},{"a":94,"v":-0.04},{"a":95,"v":-0.03},{"a":96,"v":-0.03},{"a":97,"v":-0.02},{"a":98,"v":-0.01},{"a":99,"v":-0.01},{"a":100,"v":-0.004},
{"a":0,"v":0.34},{"a":1,"v":0.39},{"a":2,"v":0.42},{"a":3,"v":0.43},{"a":4,"v":0.45},{"a":5,"v":0.46},{"a":6,"v":0.46},{"a":7,"v":0.48},{"a":8,"v":0.49},{"a":9,"v":0.5},{"a":10,"v":0.51},{"a":11,"v":0.51},{"a":12,"v":0.54},{"a":13,"v":0.52},{"a":14,"v":0.52},{"a":15,"v":0.51},{"a":16,"v":0.5},{"a":17,"v":0.49},{"a":18,"v":0.48},{"a":19,"v":0.49},{"a":20,"v":0.49},{"a":21,"v":0.48},{"a":22,"v":0.49},{"a":23,"v":0.49},{"a":24,"v":0.5},{"a":25,"v":0.51},{"a":26,"v":0.51},{"a":27,"v":0.53},{"a":28,"v":0.55},{"a":29,"v":0.55},{"a":30,"v":0.56},{"a":31,"v":0.58},{"a":32,"v":0.59},{"a":33,"v":0.6},{"a":34,"v":0.62},{"a":35,"v":0.63},{"a":36,"v":0.66},{"a":37,"v":0.68},{"a":38,"v":0.72},{"a":39,"v":0.75},{"a":40,"v":0.78},{"a":41,"v":0.8},{"a":42,"v":0.82},{"a":43,"v":0.84},{"a":44,"v":0.86},{"a":45,"v":0.84},{"a":46,"v":0.83},{"a":47,"v":0.82},{"a":48,"v":0.81},{"a":49,"v":0.8},{"a":50,"v":0.79},{"a":51,"v":0.79},{"a":52,"v":0.78},{"a":53,"v":0.78},{"a":54,"v":0.76},{"a":55,"v":0.76},{"a":56,"v":0.77},{"a":57,"v":0.75},{"a":58,"v":0.73},{"a":59,"v":0.71},{"a":60,"v":0.69},{"a":61,"v":0.67},{"a":62,"v":0.66},{"a":63,"v":0.64},{"a":64,"v":0.6},{"a":65,"v":0.58},{"a":66,"v":0.56},{"a":67,"v":0.56},{"a":68,"v":0.55},{"a":69,"v":0.53},{"a":70,"v":0.49},{"a":71,"v":0.51},{"a":72,"v":0.53},{"a":73,"v":0.49},{"a":74,"v":0.46},{"a":75,"v":0.47},{"a":76,"v":0.44},{"a":77,"v":0.43},{"a":78,"v":0.37},{"a":79,"v":0.33},{"a":80,"v":0.4},{"a":81,"v":0.28},{"a":82,"v":0.27},{"a":83,"v":0.3},{"a":84,"v":0.32},{"a":85,"v":0.3},{"a":86,"v":0.27},{"a":87,"v":0.26},{"a":88,"v":0.23},{"a":89,"v":0.2},{"a":90,"v":0.18},{"a":91,"v":0.14},{"a":92,"v":0.12},{"a":93,"v":0.1},{"a":94,"v":0.08},{"a":95,"v":0.06},{"a":96,"v":0.05},{"a":97,"v":0.04},{"a":98,"v":0.03},{"a":99,"v":0.02},{"a":100,"v":0.01}],
"m81": [{"a":0,"v":-0.83},{"a":1,"v":-0.87},{"a":2,"v":-0.9},{"a":3,"v":-0.92},{"a":4,"v":-0.93},{"a":5,"v":-0.95},{"a":6,"v":-0.94},{"a":7,"v":-0.93},{"a":8,"v":-0.93},{"a":9,"v":-0.93},{"a":10,"v":-0.92},{"a":11,"v":-0.92},{"a":12,"v":-0.91},{"a":13,"v":-0.9},{"a":14,"v":-0.96},{"a":15,"v":-0.91},{"a":16,"v":-0.92},{"a":17,"v":-0.9},{"a":18,"v":-0.86},{"a":19,"v":-0.83},{"a":20,"v":-0.8},{"a":21,"v":-0.8},{"a":22,"v":-0.8},{"a":23,"v":-0.78},{"a":24,"v":-0.72},{"a":25,"v":-0.71},{"a":26,"v":-0.68},{"a":27,"v":-0.69},{"a":28,"v":-0.66},{"a":29,"v":-0.66},{"a":30,"v":-0.66},{"a":31,"v":-0.7},{"a":32,"v":-0.7},{"a":33,"v":-0.7},{"a":34,"v":-0.64},{"a":35,"v":-0.67},{"a":36,"v":-0.64},{"a":37,"v":-0.58},{"a":38,"v":-0.57},{"a":39,"v":-0.51},{"a":40,"v":-0.63},{"a":41,"v":-0.47},{"a":42,"v":-0.54},{"a":43,"v":-0.55},{"a":44,"v":-0.61},{"a":45,"v":-0.61},{"a":46,"v":-0.61},{"a":47,"v":-0.61},{"a":48,"v":-0.63},{"a":49,"v":-0.63},{"a":50,"v":-0.6},{"a":51,"v":-0.58},{"a":52,"v":-0.58},{"a":53,"v":-0.56},{"a":54,"v":-0.55},{"a":55,"v":-0.53},{"a":56,"v":-0.52},{"a":57,"v":-0.51},{"a":58,"v":-0.49},{"a":59,"v":-0.44},{"a":60,"v":-0.41},{"a":61,"v":-0.38},{"a":62,"v":-0.36},{"a":63,"v":-0.35},{"a":64,"v":-0.35},{"a":65,"v":-0.33},{"a":66,"v":-0.33},{"a":67,"v":-0.33},{"a":68,"v":-0.33},{"a":69,"v":-0.32},{"a":70,"v":-0.31},{"a":71,"v":-0.3},{"a":72,"v":-0.28},{"a":73,"v":-0.26},{"a":74,"v":-0.24},{"a":75,"v":-0.21},{"a":76,"v":-0.2},{"a":77,"v":-0.18},{"a":78,"v":-0.17},{"a":79,"v":-0.15},{"a":80,"v":-0.13},{"a":81,"v":-0.12},{"a":82,"v":-0.11},{"a":83,"v":-0.1},{"a":84,"v":-0.08},{"a":85,"v":-0.07},{"a":86,"v":-0.06},{"a":87,"v":-0.05},{"a":88,"v":-0.04},{"a":89,"v":-0.04},{"a":90,"v":-0.03},{"a":91,"v":-0.03},{"a":92,"v":-0.02},{"a":93,"v":-0.02},{"a":94,"v":-0.01},{"a":95,"v":-0.01},{"a":96,"v":-0.01},{"a":97,"v":-0.005},{"a":98,"v":-0.004},{"a":99,"v":-0.003},{"a":100,"v":-0.002},
{"a":0,"v":0.78},{"a":1,"v":0.81},{"a":2,"v":0.82},{"a":3,"v":0.84},{"a":4,"v":0.87},{"a":5,"v":0.88},{"a":6,"v":0.88},{"a":7,"v":0.87},{"a":8,"v":0.88},{"a":9,"v":0.87},{"a":10,"v":0.86},{"a":11,"v":0.86},{"a":12,"v":0.85},{"a":13,"v":0.87},{"a":14,"v":0.9},{"a":15,"v":0.87},{"a":16,"v":0.89},{"a":17,"v":0.86},{"a":18,"v":0.83},{"a":19,"v":0.81},{"a":20,"v":0.82},{"a":21,"v":0.8},{"a":22,"v":0.78},{"a":23,"v":0.77},{"a":24,"v":0.72},{"a":25,"v":0.71},{"a":26,"v":0.7},{"a":27,"v":0.69},{"a":28,"v":0.68},{"a":29,"v":0.65},{"a":30,"v":0.66},{"a":31,"v":0.66},{"a":32,"v":0.71},{"a":33,"v":0.68},{"a":34,"v":0.65},{"a":35,"v":0.68},{"a":36,"v":0.64},{"a":37,"v":0.64},{"a":38,"v":0.58},{"a":39,"v":0.5},{"a":40,"v":0.62},{"a":41,"v":0.47},{"a":42,"v":0.53},{"a":43,"v":0.56},{"a":44,"v":0.64},{"a":45,"v":0.62},{"a":46,"v":0.63},{"a":47,"v":0.65},{"a":48,"v":0.65},{"a":49,"v":0.64},{"a":50,"v":0.64},{"a":51,"v":0.61},{"a":52,"v":0.61},{"a":53,"v":0.58},{"a":54,"v":0.58},{"a":55,"v":0.57},{"a":56,"v":0.56},{"a":57,"v":0.55},{"a":58,"v":0.51},{"a":59,"v":0.5},{"a":60,"v":0.47},{"a":61,"v":0.45},{"a":62,"v":0.44},{"a":63,"v":0.43},{"a":64,"v":0.43},{"a":65,"v":0.42},{"a":66,"v":0.42},{"a":67,"v":0.41},{"a":68,"v":0.41},{"a":69,"v":0.4},{"a":70,"v":0.38},{"a":71,"v":0.37},{"a":72,"v":0.34},{"a":73,"v":0.32},{"a":74,"v":0.3},{"a":75,"v":0.29},{"a":76,"v":0.27},{"a":77,"v":0.25},{"a":78,"v":0.23},{"a":79,"v":0.22},{"a":80,"v":0.21},{"a":81,"v":0.15},{"a":82,"v":0.14},{"a":83,"v":0.12},{"a":84,"v":0.11},{"a":85,"v":0.1},{"a":86,"v":0.08},{"a":87,"v":0.08},{"a":88,"v":0.06},{"a":89,"v":0.05},{"a":90,"v":0.04},{"a":91,"v":0.03},{"a":92,"v":0.03},{"a":93,"v":0.02},{"a":94,"v":0.01},{"a":95,"v":0.01},{"a":96,"v":0.01},{"a":97,"v":0.005},{"a":98,"v":0.004},{"a":99,"v":0.003},{"a":100,"v":0.002}]
},
"concat": [
{"width": 584, "height": 516, "title": {"text": "Resilientes", "dx": 8},
 "encoding": {
  "x": {"field": "v", "type": "quantitative", "stack": null, "scale": {"domain": [-1.2, 1.2], "nice": false, "zero": false}, "axis": {"title": null}},
  "y": {"field": "a", "type": "quantitative", "scale": {"domain": [0, 100], "nice": false}, "axis": {"title": null, "values": [0,4,8,12,16,20,24,28,32,36,40,44,48,52,56,60,64,68,72,76,80,84,88,92,96,100]}}
 },
 "layer": [
  {"data": {"name": "r81"}, "mark": {"type": "bar", "orient": "horizontal", "clip": true, "opacity": 0.35}, "encoding": {"color": {"datum": "1981", "type": "nominal", "scale": {"domain": ["2021", "1981"], "range": ["#1562b2", "#a6a6a6"]}, "legend": {"title": null, "orient": "none", "legendX": 536, "legendY": 1228, "direction": "horizontal", "symbolOpacity": 0.35}}}},
  {"data": {"name": "r21"}, "mark": {"type": "bar", "orient": "horizontal", "clip": true, "opacity": 0.35}, "encoding": {"color": {"datum": "2021", "type": "nominal", "scale": {"domain": ["2021", "1981"], "range": ["#1562b2", "#a6a6a6"]}, "legend": {"title": null, "orient": "none", "legendX": 536, "legendY": 1228, "direction": "horizontal", "symbolOpacity": 0.35}}}},
  {"data": {"values": [{}]}, "mark": {"type": "rule", "color": "#f4f4f4", "strokeWidth": 2}, "encoding": {"x": {"datum": 0}, "y": {"datum": 0}, "y2": {"datum": 100}}}
 ]},
{"width": 562, "height": 516, "title": {"text": "Emigratorios", "dx": -7},
 "encoding": {
  "x": {"field": "v", "type": "quantitative", "stack": null, "scale": {"domain": [-1.2, 1.2], "nice": false, "zero": false}, "axis": {"title": null}},
  "y": {"field": "a", "type": "quantitative", "scale": {"domain": [0, 100], "nice": false}, "axis": {"title": null, "values": [0,4,8,12,16,20,24,28,32,36,40,44,48,52,56,60,64,68,72,76,80,84,88,92,96,100]}}
 },
 "layer": [
  {"data": {"name": "e81"}, "mark": {"type": "bar", "orient": "horizontal", "clip": true, "opacity": 0.35}, "encoding": {"color": {"datum": "1981", "type": "nominal", "scale": {"domain": ["2021", "1981"], "range": ["#1562b2", "#a6a6a6"]}, "legend": {"title": null, "orient": "none", "legendX": 536, "legendY": 1228, "direction": "horizontal", "symbolOpacity": 0.35}}}},
  {"data": {"name": "e21"}, "mark": {"type": "bar", "orient": "horizontal", "clip": true, "opacity": 0.35}, "encoding": {"color": {"datum": "2021", "type": "nominal", "scale": {"domain": ["2021", "1981"], "range": ["#1562b2", "#a6a6a6"]}, "legend": {"title": null, "orient": "none", "legendX": 536, "legendY": 1228, "direction": "horizontal", "symbolOpacity": 0.35}}}},
  {"data": {"values": [{}]}, "mark": {"type": "rule", "color": "#f4f4f4", "strokeWidth": 2}, "encoding": {"x": {"datum": 0}, "y": {"datum": 0}, "y2": {"datum": 100}}}
 ]},
{"width": 584, "height": 516, "title": {"text": "En riesgo de despoblación irreversible", "dx": -17},
 "encoding": {
  "x": {"field": "v", "type": "quantitative", "stack": null, "scale": {"domain": [-1.2, 1.2], "nice": false, "zero": false}, "axis": {"title": null}},
  "y": {"field": "a", "type": "quantitative", "scale": {"domain": [0, 100], "nice": false}, "axis": {"title": null, "values": [0,4,8,12,16,20,24,28,32,36,40,44,48,52,56,60,64,68,72,76,80,84,88,92,96,100]}}
 },
 "layer": [
  {"data": {"name": "d81"}, "mark": {"type": "bar", "orient": "horizontal", "clip": true, "opacity": 0.35}, "encoding": {"color": {"datum": "1981", "type": "nominal", "scale": {"domain": ["2021", "1981"], "range": ["#1562b2", "#a6a6a6"]}, "legend": {"title": null, "orient": "none", "legendX": 536, "legendY": 1228, "direction": "horizontal", "symbolOpacity": 0.35}}}},
  {"data": {"name": "d21"}, "mark": {"type": "bar", "orient": "horizontal", "clip": true, "opacity": 0.35}, "encoding": {"color": {"datum": "2021", "type": "nominal", "scale": {"domain": ["2021", "1981"], "range": ["#1562b2", "#a6a6a6"]}, "legend": {"title": null, "orient": "none", "legendX": 536, "legendY": 1228, "direction": "horizontal", "symbolOpacity": 0.35}}}},
  {"data": {"values": [{}]}, "mark": {"type": "rule", "color": "#f4f4f4", "strokeWidth": 2}, "encoding": {"x": {"datum": 0}, "y": {"datum": 0}, "y2": {"datum": 100}}}
 ]},
{"width": 562, "height": 516, "title": {"text": "De más de 1.000 habs.", "dx": 18},
 "encoding": {
  "x": {"field": "v", "type": "quantitative", "stack": null, "scale": {"domain": [-1.2, 1.2], "nice": false, "zero": false}, "axis": {"title": null}},
  "y": {"field": "a", "type": "quantitative", "scale": {"domain": [0, 100], "nice": false}, "axis": {"title": null, "values": [0,4,8,12,16,20,24,28,32,36,40,44,48,52,56,60,64,68,72,76,80,84,88,92,96,100]}}
 },
 "layer": [
  {"data": {"name": "m81"}, "mark": {"type": "bar", "orient": "horizontal", "clip": true, "opacity": 0.35}, "encoding": {"color": {"datum": "1981", "type": "nominal", "scale": {"domain": ["2021", "1981"], "range": ["#1562b2", "#a6a6a6"]}, "legend": {"title": null, "orient": "none", "legendX": 536, "legendY": 1228, "direction": "horizontal", "symbolOpacity": 0.35}}}},
  {"data": {"name": "m21"}, "mark": {"type": "bar", "orient": "horizontal", "clip": true, "opacity": 0.35}, "encoding": {"color": {"datum": "2021", "type": "nominal", "scale": {"domain": ["2021", "1981"], "range": ["#1562b2", "#a6a6a6"]}, "legend": {"title": null, "orient": "none", "legendX": 536, "legendY": 1228, "direction": "horizontal", "symbolOpacity": 0.35}}}},
  {"data": {"values": [{}]}, "mark": {"type": "rule", "color": "#f4f4f4", "strokeWidth": 2}, "encoding": {"x": {"datum": 0}, "y": {"datum": 0}, "y2": {"datum": 100}}}
 ]}
],
"config": {
 "font": "Liberation Sans",
 "view": {"stroke": "#000000", "strokeWidth": 2},
 "title": {"fontSize": 26, "fontWeight": "normal", "color": "#000000", "frame": "group", "offset": 10, "baseline": "alphabetic", "anchor": "middle"},
 "axis": {"labelFontSize": 16, "labelColor": "#000000", "labelFont": "Liberation Sans", "ticks": false, "tickSize": 0, "domain": false, "labelFlush": false, "labelOverlap": false},
 "axisX": {"grid": true, "gridColor": "#d9d9d9", "gridWidth": 1.5, "tickCount": 12, "labelPadding": 10, "labelExpr": "replace(format(abs(datum.value),'.1f'),'.',',')+'%'"},
 "axisY": {"grid": false, "labelPadding": 12},
 "bar": {"continuousBandSize": 5.16},
 "legend": {"symbolType": "square", "symbolSize": 121, "symbolStrokeWidth": 0, "labelFontSize": 20, "labelFont": "Liberation Sans", "labelColor": "#000000", "columnPadding": 16, "labelOffset": 5, "padding": 0}
}
}
